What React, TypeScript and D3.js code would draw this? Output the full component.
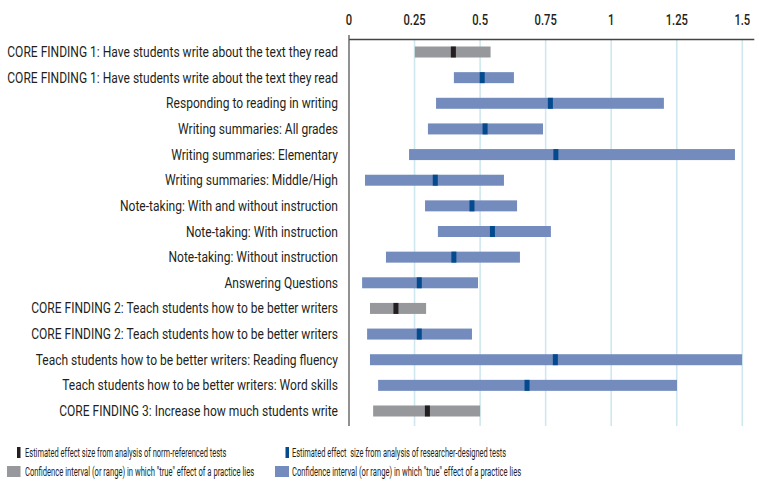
import React from "react";
import * as d3 from "d3";

const labels = [
    "CORE FINDING 1: Have students write about the text they read",
    "CORE FINDING 1: Have students write about the text they read",
    "Responding to reading in writing",
    "Writing summaries: All grades",
    "Writing summaries: Elementary",
    "Writing summaries: Middle/High",
    "Note-taking: With and without instruction",
    "Note-taking: With instruction",
    "Note-taking: Without instruction",
    "Answering Questions",
    "CORE FINDING 2: Teach students how to be better writers",
    "CORE FINDING 2: Teach students how to be better writers",
    "Teach students how to be better writers: Reading fluency",
    "Teach students how to be better writers: Word skills",
    "CORE FINDING 3: Increase how much students write",
];

// confidence interval bounds and the point estimate
const lows = [0.251, 0.4, 0.332, 0.301, 0.229, 0.061, 0.29, 0.339, 0.141, 0.05, 0.08, 0.069, 0.08, 0.111, 0.092];
const highs = [0.54, 0.629, 1.201, 0.74, 1.472, 0.591, 0.641, 0.77, 0.652, 0.492, 0.294, 0.469, 1.499, 1.251, 0.5];
const effects = [0.398, 0.508, 0.768, 0.519, 0.789, 0.329, 0.469, 0.547, 0.4, 0.268, 0.179, 0.268, 0.787, 0.679, 0.299];
// "norm" = norm-referenced tests, "res" = researcher-designed tests
const testTypes = ["norm", "res", "res", "res", "res", "res", "res", "res", "res", "res", "norm", "res", "res", "res", "norm"];

const ticks = [0, 0.25, 0.5, 0.75, 1, 1.25, 1.5];

const legendItems = [
    "Estimated effect size from analysis of norm-referenced tests",
    "Confidence interval (or range) in which \"true\" effect of a practice lies",
    "Estimated effect  size from analysis of researcher-designed tests",
    "Confidence interval (or range) in which \"true\" effect of a practice lies",
];

const colors = {
    norm: { bar: "#97989b", mark: "#231f20" },
    res: { bar: "#748cbd", mark: "#034a8e" },
};

const font = "Roboto, 'DejaVu Sans', sans-serif";

// condensed text: the original uses a condensed face, squeeze Roboto horizontally
function NarrowText({ x, y, sx, anchor = "start", size, weight = 400, children }: {
    x: number; y: number; sx: number; anchor?: string; size: number; weight?: number; children: React.ReactNode;
}) {
    return (
        <text
            transform={`translate(${x},${y}) scale(${sx},1)`}
            textAnchor={anchor}
            fontSize={size}
            fontWeight={weight}
            fill="#231f20"
            style={{ whiteSpace: "pre" }}
        >
            {children}
        </text>
    );
}

export default function App() {
    const width = 759;
    const height = 483;
    const axisY = 39.5;
    const bottom = 426;

    const x = d3.scaleLinear().domain([0, 1.5]).range([349, 742.3]);
    const y = d3.scalePoint<number>().domain(d3.range(labels.length)).range([52, 411]);
    const barH = 11;
    const markW = 5;

    return (
        <svg
            width={width}
            height={height}
            style={{ position: "absolute", left: 0, top: 0, background: "#fff" }}
            fontFamily={font}
        >
            {/* grid */}
            {ticks.slice(1).map((t) => (
                <line key={"g" + t} x1={x(t)} x2={x(t)} y1={axisY} y2={bottom} stroke="#cfe8ef" strokeWidth={1.6} />
            ))}
            {ticks.map((t) => (
                <NarrowText key={"t" + t} x={x(t)} y={25} sx={0.8} anchor="middle" size={14} weight={500}>
                    {String(t)}
                </NarrowText>
            ))}

            {/* bars */}
            {labels.map((_, i) => {
                const c = colors[testTypes[i] as "norm" | "res"];
                const cy = y(i)!;
                return (
                    <g key={"b" + i}>
                        <rect x={x(lows[i])} y={cy - barH / 2} width={x(highs[i]) - x(lows[i])} height={barH} fill={c.bar} />
                        <rect x={x(effects[i]) - markW / 2} y={cy - barH / 2} width={markW} height={barH} fill={c.mark} />
                    </g>
                );
            })}

            {/* axes */}
            <line x1={x(0)} x2={x(1.5) + 12} y1={axisY} y2={axisY} stroke="#444" strokeWidth={1.3} />
            <line x1={x(0)} x2={x(0)} y1={axisY - 4.5} y2={bottom} stroke="#555" strokeWidth={1.3} />

            {labels.map((l, i) => (
                <NarrowText key={"l" + i} x={338} y={y(i)! + 5} sx={0.86} anchor="end" size={14}>
                    {l}
                </NarrowText>
            ))}

            {/* legend */}
            <rect x={17} y={447} width={3.5} height={11} fill={colors.norm.mark} />
            <NarrowText x={25} y={456.5} sx={0.625} size={12}>{legendItems[0]}</NarrowText>
            <rect x={7} y={466} width={13.5} height={11} fill={colors.norm.bar} />
            <NarrowText x={25} y={475.5} sx={0.635} size={12}>{legendItems[1]}</NarrowText>
            <rect x={285.5} y={447} width={3.5} height={11} fill={colors.res.mark} />
            <NarrowText x={292} y={456.5} sx={0.62} size={12}>{legendItems[2]}</NarrowText>
            <rect x={275} y={466} width={14} height={11} fill={colors.res.bar} />
            <NarrowText x={292} y={475.5} sx={0.635} size={12}>{legendItems[3]}</NarrowText>
        </svg>
    );
}
